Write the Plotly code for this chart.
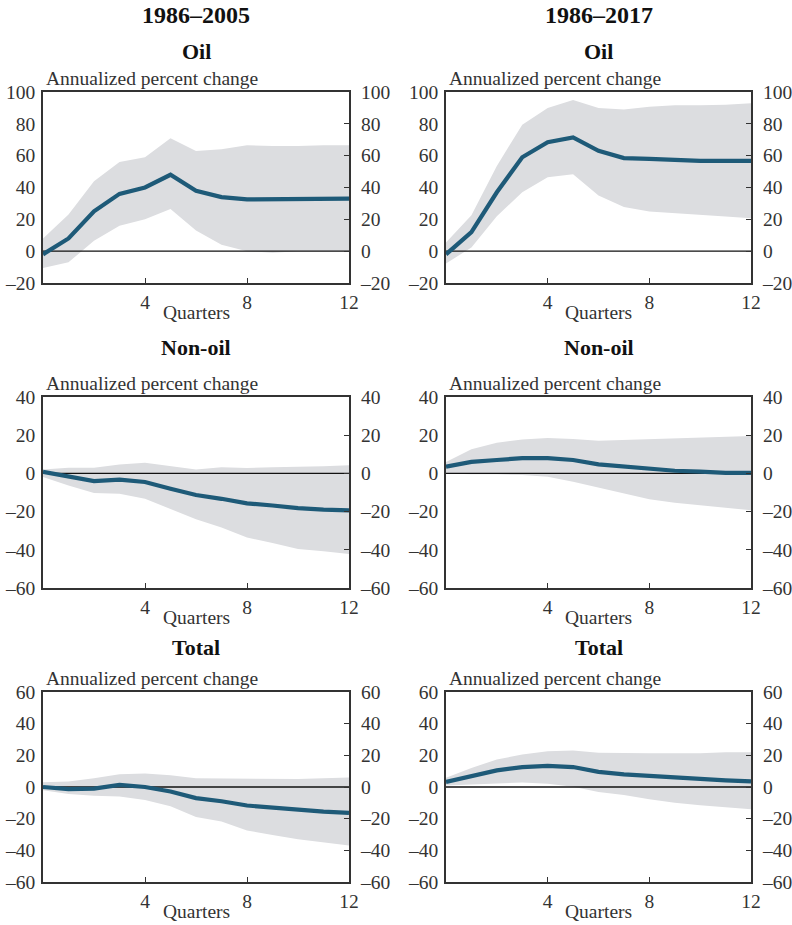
import plotly.graph_objects as go

# ---------------- data ----------------
quarters = [0, 1, 2, 3, 4, 5, 6, 7, 8, 9, 10, 11, 12]

col_titles = ["1986–2005", "1986–2017"]
row_titles = ["Oil", "Non-oil", "Total"]

# Oil, 1986-2005
oil_a_line = [-2, 8, 25, 36, 40, 48, 38, 34, 32.5, 32.5, 33, 33, 33]
oil_a_up = [8, 23, 44, 56, 59, 71, 63, 64, 66.5, 66, 66, 66.5, 66.5]
oil_a_lo = [-10.5, -7, 6.5, 16, 20, 26.5, 13, 4, 0, -1, 0, 0, 0]
# Oil, 1986-2017
oil_b_line = [-2, 12, 37, 59, 68.5, 71.5, 63, 58.5, 58, 57.3, 56.7, 56.7, 56.7]
oil_b_up = [5.5, 22.5, 53.5, 79.5, 90, 95, 90, 89, 90.8, 91.6, 91.6, 92, 93]
oil_b_lo = [-7.7, 2.3, 22, 37, 46.5, 48.3, 35, 27.8, 25, 23.8, 22.8, 21.8, 20.7]
# Non-oil, 1986-2005
non_a_line = [0.8, -1.5, -4, -3.3, -4.5, -8, -11.3, -13.3, -15.7, -16.8, -18.2, -19, -19.4]
non_a_up = [2, 3, 3, 4.6, 5.6, 3.9, 2, 3.2, 2.8, 3.2, 3.4, 3.7, 4.3]
non_a_lo = [-1.9, -6.3, -10.3, -10.6, -13.3, -18.6, -24, -28.3, -33.6, -36.5, -39.6, -40.8, -42.2]
# Non-oil, 1986-2017
non_b_line = [3.5, 6, 7, 8, 8, 7, 4.7, 3.5, 2.3, 1.4, 0.9, 0.3, 0.3]
non_b_up = [6, 12.6, 16, 17.8, 18.5, 18, 17.1, 17.5, 18, 18.4, 18.5, 18.9, 19.6]
non_b_lo = [0, -0.5, -0.5, -0.9, -1.8, -4.4, -7.4, -10.5, -13.5, -15.4, -17, -18, -19.3]
# Total, 1986-2005
tot_a_line = [0, -1.3, -1, 1.3, 0, -2.8, -7, -9, -11.7, -13, -14.8, -15.5, -16.3]
tot_a_up = [3, 3.5, 5.5, 8, 8.5, 7.5, 5.6, 5.4, 5, 5, 5, 5.6, 6]
tot_a_lo = [-2, -4.4, -5.5, -6, -8.2, -12.2, -19, -21.8, -27.5, -30.3, -33, -35, -37]
# Total, 1986-2017
tot_b_line = [3.2, 7, 10.5, 12.6, 13.4, 12.6, 9.6, 8, 7, 5.7, 5, 4.2, 3.6]
tot_b_up = [5.9, 12, 17.4, 20.5, 22.6, 23, 21.6, 21.3, 21.3, 21.3, 21.3, 22, 22]
tot_b_lo = [1, 1.7, 2.3, 2.8, 2.1, 0.2, -3.2, -5, -7.8, -10, -11.6, -13, -14]

x_tickvals = [4, 8, 12]
x_ticktext = ["4", "8", "12"]
oil_ticks = [-20, 0, 20, 40, 60, 80, 100]
non_ticks = [-60, -40, -20, 0, 20, 40]
tot_ticks = [-60, -40, -20, 0, 20, 40, 60]

y_label = "Annualized percent change"
x_label = "Quarters"

# ---------------- styling ----------------
W, H = 792, 925
FONT = "Liberation Serif"
LINE_C = "#1e5a78"
BAND_C = "#dcdde0"
AX_C = "#333333"
TICK_SIZE = 19.5

col_px = [(43, 349), (446, 751)]
row_px = [(92, 283), (397, 588), (692, 882)]

panels = [
    [(oil_a_line, oil_a_up, oil_a_lo), (oil_b_line, oil_b_up, oil_b_lo)],
    [(non_a_line, non_a_up, non_a_lo), (non_b_line, non_b_up, non_b_lo)],
    [(tot_a_line, tot_a_up, tot_a_lo), (tot_b_line, tot_b_up, tot_b_lo)],
]
row_ticks = [oil_ticks, non_ticks, tot_ticks]


def fmt(v):
    return ("–" + str(-v)) if v < 0 else str(v)


fig = go.Figure()
layout = dict(
    width=W, height=H, margin=dict(l=0, r=0, t=0, b=0, autoexpand=False),
    paper_bgcolor="white", plot_bgcolor="white", showlegend=False,
    font=dict(family=FONT, color=AX_C, size=TICK_SIZE),
)
annotations = []

n = 0
for r in range(3):
    for c in range(2):
        n += 1
        line, up, lo = panels[r][c]
        ticks = row_ticks[r]
        xs = "" if n == 1 else str(n)
        xref, yref, yref2 = "x" + xs, "y" + xs, "y" + str(n + 6)
        x0p, x1p = col_px[c]
        y0p, y1p = row_px[r]
        xdom = [x0p / W, x1p / W]
        ydom = [1 - y1p / H, 1 - y0p / H]
        yr = [ticks[0], ticks[-1]]

        fig.add_trace(go.Scatter(
            x=quarters + quarters[::-1], y=up + lo[::-1], fill="toself",
            fillcolor=BAND_C, line=dict(width=0), mode="lines",
            hoverinfo="skip", xaxis=xref, yaxis=yref))
        fig.add_trace(go.Scatter(
            x=[quarters[0], quarters[-1]], y=[0, 0], mode="lines",
            line=dict(color="#111111", width=1.4), hoverinfo="skip",
            xaxis=xref, yaxis=yref))
        fig.add_trace(go.Scatter(
            x=quarters, y=line, mode="lines",
            line=dict(color=LINE_C, width=4.2), xaxis=xref, yaxis=yref))
        fig.add_trace(go.Scatter(
            x=quarters, y=line, mode="lines", opacity=0,
            hoverinfo="skip", xaxis=xref, yaxis=yref2))

        tf = dict(family=FONT, size=TICK_SIZE, color=AX_C)
        layout["xaxis" + xs] = dict(
            domain=xdom, range=[0, 12], anchor=yref, automargin=False,
            tickvals=x_tickvals, ticktext=x_ticktext,
            ticks="inside", ticklen=5, tickwidth=1.3, tickcolor=AX_C,
            showline=True, linecolor=AX_C, linewidth=1.6, mirror=True,
            showgrid=False, zeroline=False, fixedrange=True,
            tickfont=tf, ticklabelstandoff=1)
        layout["yaxis" + xs] = dict(
            domain=ydom, range=yr, anchor=xref, automargin=False,
            tickvals=ticks, ticktext=[fmt(v) for v in ticks],
            ticks="", showline=True, linecolor=AX_C, linewidth=1.6,
            mirror=True, showgrid=False, zeroline=False,
            tickfont=tf, ticklabelstandoff=2)
        layout["yaxis" + str(n + 6)] = dict(
            domain=ydom, range=yr, anchor=xref, overlaying=yref,
            automargin=False,
            side="right", tickvals=ticks, ticktext=[fmt(v) for v in ticks],
            ticks="inside", ticklen=5, tickwidth=1.3, tickcolor=AX_C,
            showline=False, showgrid=False, zeroline=False,
            tickfont=tf, ticklabelstandoff=11)

        # y-axis caption
        annotations.append(dict(
            text=y_label, xref="paper", yref="paper",
            x=(x0p + 1) / W, y=1 - (y0p - 1) / H, xanchor="left",
            yanchor="bottom", showarrow=False,
            font=dict(family=FONT, size=19.5, color=AX_C)))
        # x-axis caption
        annotations.append(dict(
            text=x_label, xref="paper", yref="paper",
            x=(x0p + x1p) / 2 / W, y=1 - (y1p + 29) / H, xanchor="center",
            yanchor="middle", showarrow=False,
            font=dict(family=FONT, size=19.5, color=AX_C)))

# panel titles
title_y = [52, 348, 647]
for c in range(2):
    cx = (col_px[c][0] + col_px[c][1]) / 2 / W
    annotations.append(dict(
        text="<b>" + col_titles[c] + "</b>", xref="paper", yref="paper",
        x=cx, y=1 - 15 / H, xanchor="center", yanchor="middle",
        showarrow=False, font=dict(family=FONT, size=24, color="#111111")))
    for r in range(3):
        annotations.append(dict(
            text="<b>" + row_titles[r] + "</b>", xref="paper", yref="paper",
            x=cx, y=1 - title_y[r] / H, xanchor="center", yanchor="middle",
            showarrow=False, font=dict(family=FONT, size=22, color="#111111")))

layout["annotations"] = annotations
fig.update_layout(**layout)
fig.write_html(
    "out.html",
    config={"displayModeBar": False},
    post_script="document.body.style.margin='0';document.body.style.overflow='hidden';",
)
